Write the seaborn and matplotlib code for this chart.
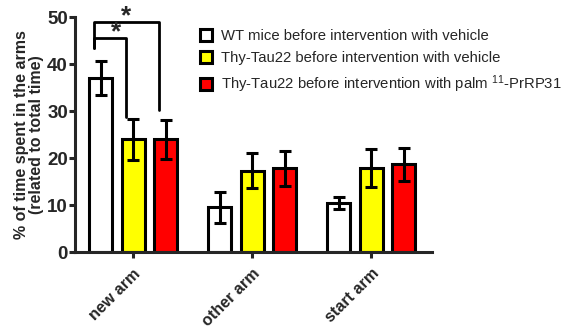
import pandas as pd
import matplotlib.pyplot as plt
import seaborn as sns
from matplotlib.lines import Line2D

arms = ["new arm", "other arm", "start arm"]
groups = ["WT mice before intervention with vehicle",
          "Thy-Tau22 before intervention with vehicle",
          "Thy-Tau22 before intervention with palm $^{11}$-PrRP31"]
colors = ["#ffffff", "#ffff00", "#ff0000"]

wt_mean = [37.0, 9.5, 10.5]
wt_sem = [3.6, 3.3, 1.3]
tau_veh_mean = [24.0, 17.3, 17.9]
tau_veh_sem = [4.4, 3.7, 4.0]
tau_prrp_mean = [24.0, 17.8, 18.7]
tau_prrp_sem = [4.2, 3.8, 3.5]

means = [wt_mean, tau_veh_mean, tau_prrp_mean]
sems = [wt_sem, tau_veh_sem, tau_prrp_sem]

rows = []
for g, m in zip(groups, means):
    for a, v in zip(arms, m):
        rows.append({"arm": a, "group": g, "value": v})
df = pd.DataFrame(rows)

sns.set_style("ticks")
plt.rcParams["font.family"] = ["Liberation Sans", "DejaVu Sans"]
plt.rcParams["mathtext.fontset"] = "custom"
plt.rcParams["mathtext.rm"] = "Liberation Sans"
plt.rcParams["mathtext.default"] = "regular"

fig = plt.figure(figsize=(5.63, 3.29), dpi=100)
ax = fig.add_axes([0.133, 0.234, 0.634, 0.714])

sns.barplot(data=df, x="arm", y="value", hue="group", order=arms, hue_order=groups,
            palette=colors, width=0.82, gap=0.3, errorbar=None,
            edgecolor="black", linewidth=2.2, ax=ax, legend=False, saturation=1)

# error bars from the drawn bar positions
centers = []
for cont, m, s in zip(ax.containers, means, sems):
    xs = [b.get_x() + b.get_width() / 2 for b in cont]
    centers.append(xs)
    ax.errorbar(xs, m, yerr=s, fmt="none", ecolor="black", elinewidth=2.2,
                capsize=4.5, capthick=2.2, zorder=5)

# significance brackets on "new arm"
x_wt, x_veh, x_prrp = centers[0][0] - 0.06, centers[1][0] - 0.06, centers[2][0] - 0.06
ax.plot([x_wt, x_wt, x_prrp, x_prrp], [43.4, 48.9, 48.9, 30.2], color="black", lw=2, clip_on=False)
ax.plot([x_wt, x_wt, x_veh, x_veh], [43.4, 45.5, 45.5, 28.8], color="black", lw=2, clip_on=False)
ax.text((x_wt + x_prrp) / 2, 50.2, "*", ha="center", va="center", fontsize=19, fontweight="bold")
ax.text((x_wt + x_veh) / 2 + 0.05, 46.8, "*", ha="center", va="center", fontsize=19, fontweight="bold")

ax.set_xlim(-0.49, 2.51)
ax.set_ylim(0, 50)
ax.set_yticks([0, 10, 20, 30, 40, 50])
ax.set_xlabel("")
ax.set_ylabel("% of time spent in the arms\n(related to total time)", fontsize=11.5,
              fontweight="bold", labelpad=2, linespacing=1.05)
for lab in ax.get_yticklabels():
    lab.set_fontweight("bold")
    lab.set_fontsize(13.5)
ax.set_xticks(range(len(arms)))
ax.set_xticklabels(arms, rotation=45, ha="right", rotation_mode="anchor",
                   fontsize=11.6, fontweight="bold")
ax.tick_params(axis="both", width=2.2, length=4, pad=1)
ax.tick_params(axis="x", pad=6)
sns.despine(ax=ax)
for sp in ["left", "bottom"]:
    ax.spines[sp].set_linewidth(2.2)

handles = [Line2D([0], [0], marker="s", linestyle="none", markersize=9,
                  markerfacecolor=c, markeredgecolor="black", markeredgewidth=2.2)
           for c in colors]
fig.legend(handles, groups, loc="upper left", bbox_to_anchor=(0.343, 0.93),
           frameon=False, fontsize=10.7, handletextpad=0.5, labelspacing=0.55,
           borderaxespad=0, handlelength=1.0)

fig.savefig("out.png", dpi=100)
